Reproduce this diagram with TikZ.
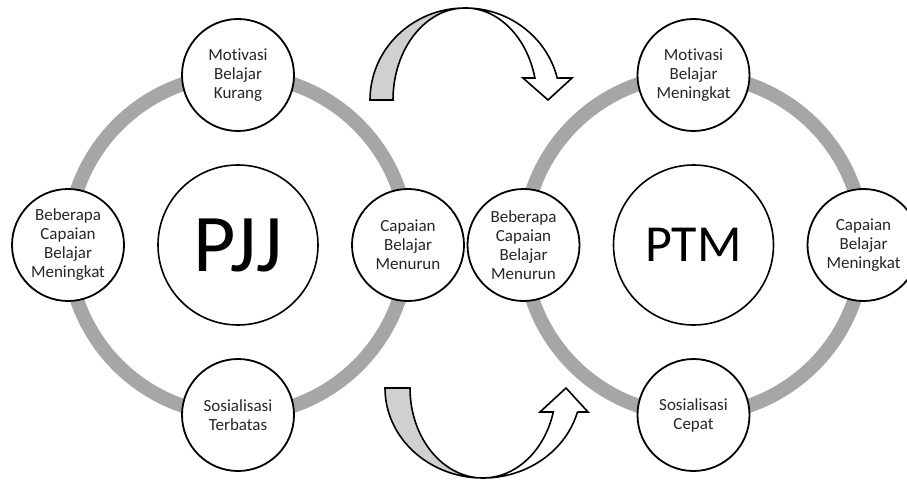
\documentclass[tikz,border=0pt]{standalone}
\usepackage{fontspec}
\setmainfont{Carlito}[Ligatures=NoCommon]
\usetikzlibrary{positioning, calc}
\definecolor{cRing}{RGB}{166,166,166}
\definecolor{cFold}{RGB}{208,208,208}

\begin{document}
\begin{tikzpicture}[x=1pt, y=1pt, font=\fontsize{17}{19}\selectfont]

    \tikzstyle{stage} = [draw, circle, line width=1.8pt, fill=white, minimum size=112pt, inner sep=0pt, align=center, text=black!85]
    \tikzstyle{hub} = [draw, circle, line width=1.6pt, fill=white, minimum size=160pt, inner sep=0pt]
    \tikzstyle{ring} = [draw=cRing, line width=14pt]
    \tikzstyle{turn} = [draw, line width=1.6pt]

    \useasboundingbox (0,0) rectangle (907,480);

    % PJJ cycle
    \coordinate (pjjC) at (238,235);
    \draw[ring] (pjjC) circle[radius=170];
    \node[hub, font=\fontsize{82}{82}\selectfont] (pjj) at (pjjC) {PJJ};
    \node[stage] (motKurang) at ($(pjjC)+(0,170)$) {Motivasi\\Belajar\\Kurang};
    \node[stage] (capNaik) at ($(pjjC)+(-170,0)$) {Beberapa\\Capaian\\Belajar\\Meningkat};
    \node[stage] (capTurun) at ($(pjjC)+(170,0)$) {Capaian\\Belajar\\Menurun};
    \node[stage] (sosTerbatas) at ($(pjjC)+(0,-170)$) {Sosialisasi\\Terbatas};

    % PTM cycle
    \coordinate (ptmC) at (693.5,235);
    \draw[ring] (ptmC) circle[radius=170];
    \node[hub, font=\fontsize{52}{52}\selectfont] (ptm) at (ptmC) {PTM};
    \node[stage] (motNaik) at ($(ptmC)+(0,170)$) {Motivasi\\Belajar\\Meningkat};
    \node[stage] (beberapaTurun) at ($(ptmC)+(-170,0)$) {Beberapa\\Capaian\\Belajar\\Menurun};
    \node[stage] (capMeningkat) at ($(ptmC)+(170,0)$) {Capaian\\Belajar\\Meningkat};
    \node[stage] (sosCepat) at ($(ptmC)+(0,-170)$) {Sosialisasi\\Cepat};

    % turn-over arrow, top
    \draw[turn, fill=cFold] (370,380) arc[start angle=180, end angle=90, x radius=95, y radius=92]
        arc[start angle=90, end angle=180, x radius=72, y radius=92] -- cycle;
    \draw[turn, fill=white] (465,472) arc[start angle=90, end angle=13.8, x radius=95, y radius=92]
        -- (572,402) -- (548,380) -- (523,402) -- (534.9,402)
        arc[start angle=13.8, end angle=90, x radius=72, y radius=92] -- cycle;

    % turn-over arrow, bottom
    \draw[turn, fill=cFold] (385,92) arc[start angle=180, end angle=270, x radius=98, y radius=90]
        arc[start angle=270, end angle=180, x radius=73, y radius=90] -- cycle;
    \draw[turn, fill=white] (483,2) arc[start angle=270, end angle=344.5, x radius=98, y radius=90]
        -- (588,68) -- (566,92) -- (540,68) -- (553.3,68)
        arc[start angle=344.5, end angle=270, x radius=73, y radius=90] -- cycle;
\end{tikzpicture}
\end{document}
